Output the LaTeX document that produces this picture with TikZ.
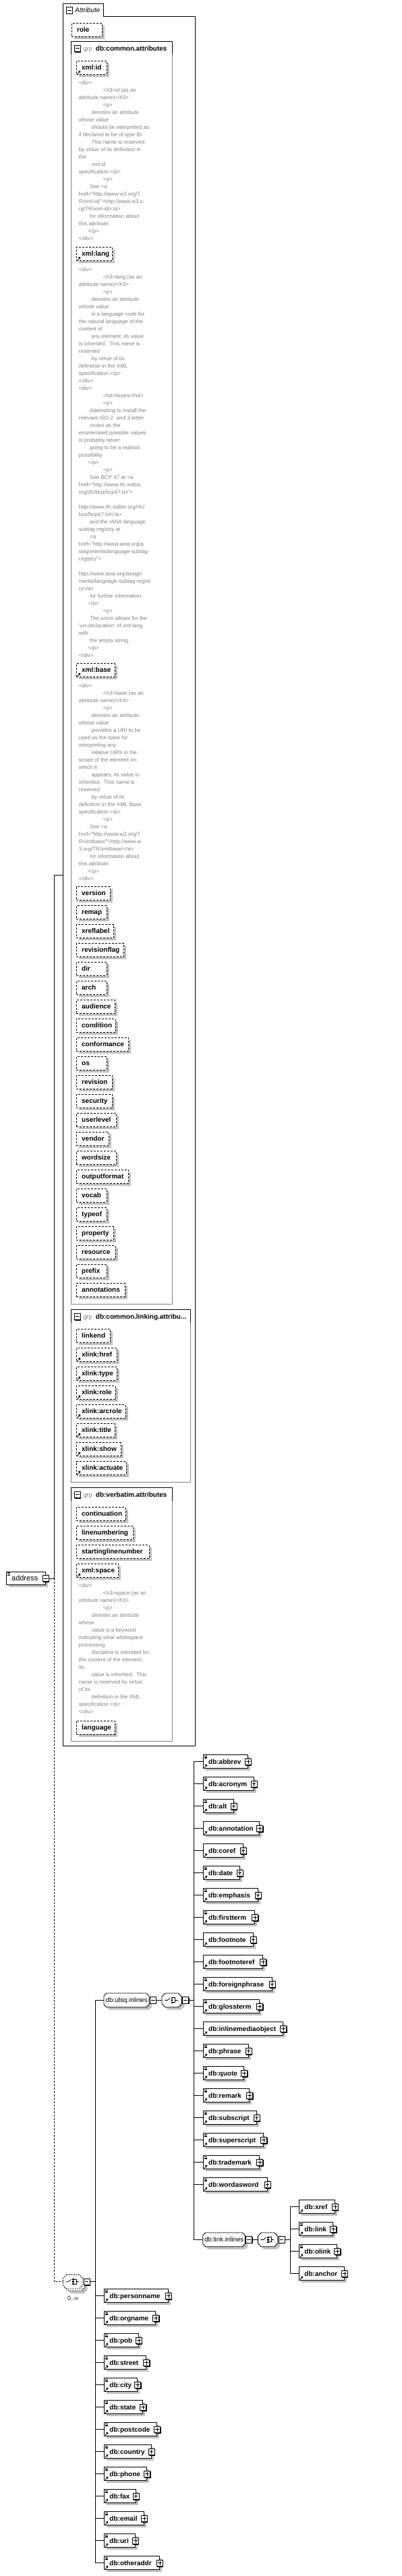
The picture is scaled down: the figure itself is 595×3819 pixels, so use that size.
\documentclass[tikz,border=0pt]{standalone}
\usepackage{fontspec}
\setmainfont{Liberation Sans}[Ligatures=TeXOff]
\definecolor{shg}{RGB}{192,192,192}
\definecolor{grpg}{RGB}{128,128,128}
\definecolor{annc}{RGB}{128,128,128}
\definecolor{occ}{RGB}{20,20,90}
\newcommand\abf{\fontsize{10}{12}\selectfont\bfseries}
\newcommand\annf{\fontsize{8}{11}\selectfont}
\newcommand\iA{\hspace*{36pt}}
\newcommand\iB{\hspace*{18.7pt}}
\newcommand\iC{\hspace*{16.3pt}}
\newcommand\iD{\hspace*{14pt}}
\tikzset{
 conn/.style={line width=0.9pt},
 attrbox/.style={draw, dash pattern=on 3pt off 2pt, line width=0.9pt, fill=white, anchor=north west, minimum height=20pt, inner xsep=7.7pt, inner ysep=0pt, align=left, text height=8pt, text depth=2pt, font=\abf},
 elembox/.style={draw, line width=0.9pt, fill=white, anchor=north west, minimum height=20pt, inner xsep=8pt, inner ysep=0pt, align=left, text height=8.4pt, text depth=1.6pt, font=\abf},
 pmboxs/.style={draw, line width=0.9pt, fill=white, minimum width=9pt, minimum height=9.5pt, inner sep=0pt},
 refnode/.style={anchor=north west, inner sep=0pt, minimum height=20.7pt, text height=8.4pt, text depth=1.6pt, font=\fontsize{9.7}{11}\selectfont},
 grpframe/.style={draw=grpg, line width=0.9pt},
 ann/.style={anchor=north west, inner sep=0pt, align=left, font=\annf, text=annc},
 grptag/.style={anchor=base west, inner sep=0pt, font=\fontsize{9.2}{11}\selectfont, text=grpg},
 grptitle/.style={anchor=base west, inner sep=0pt, font=\abf},
}
\newcommand\octpath[5]{(#1+#5,#2) -- (#3-#5,#2) -- (#3,#2+#5) -- (#3,#4-#5) -- (#3-#5,#4) -- (#1+#5,#4) -- (#1,#4-#5) -- (#1,#2+#5) -- cycle}
\newcommand\arricon[1]{%
  \draw[line width=0.9pt] ([shift={(2pt,1.8pt)}]#1.south west) -- ++(2.6pt,2.6pt);
  \fill ([shift={(6.2pt,6.4pt)}]#1.south west) -- ++(-3.4pt,0pt) -- ++(3.4pt,-3.4pt) -- cycle;}
\newcommand\linesicon[1]{%
  \foreach \d in {1.8,3.6,5.4} {\draw[line width=0.7pt] ([shift={(1.8pt,-\d pt)}]#1.north west) -- ++(4.6pt,0pt);}}
\newcommand\pmbx[3]{%
  \coordinate (#1-c) at #2;
  \fill ([shift={(-3.5pt,-5.75pt)}]#1-c) rectangle ([shift={(5.5pt,3.75pt)}]#1-c);
  \node[pmboxs] (#1) at (#1-c) {};
  \draw[line width=0.8pt] ([xshift=-2.8pt]#1.center) -- ([xshift=2.8pt]#1.center);
  \ifnum#3=1 \draw[line width=0.8pt] ([yshift=-2.8pt]#1.center) -- ([yshift=2.8pt]#1.center);\fi}
\newcommand\attrb[6]{%
  \pgfmathsetmacro\mytw{#4-#2-15.4}%
  \fill[shg] (#2+4,#3+4) rectangle (#4+4,#3+24);
  \node[attrbox, text width=\mytw pt] (#1) at (#2,#3) {#5};
  \ifnum#6=1 \arricon{#1}\fi}
\newcommand\elem[6]{%
  \pgfmathsetmacro\mytw{#4-#2-16}%
  \fill[shg] (#2+4,#3+4) rectangle (#4+4,#3+24);
  \node[elembox, text width=\mytw pt] (#1) at (#2,#3) {#5};
  \ifnum#6=1 \linesicon{#1}\fi
  \arricon{#1}
  \pmbx{#1p}{(#1.east)}{1}}
\newcommand\chicon[2]{%
  \draw[line width=0.8pt] (#1+4.3,#2) -- (#1+8.3,#2) -- (#1+12.3,#2-3.3);
  \fill (#1+14,#2-4.6) rectangle (#1+16.4,#2-2.4);
  \fill (#1+14,#2-1.2) rectangle (#1+16.4,#2+1.2);
  \fill (#1+14,#2+2.4) rectangle (#1+16.4,#2+4.6);
  \draw[line width=0.8pt] (#1+16.4,#2-3.5) -- (#1+19.6,#2-3.5) -- (#1+19.6,#2+3.5) -- (#1+16.4,#2+3.5);
  \draw[line width=0.8pt] (#1+19.6,#2) -- (#1+23.5,#2);}
\newcommand\grefn[6]{%
  \fill[shg] \octpath{#2+4}{#3+4}{#4+4}{#5+4}{4};
  \filldraw[fill=white, line width=0.9pt] \octpath{#2}{#3}{#4}{#5}{4};
  \node[refnode, minimum width={#4-#2}] (#1) at (#2,#3) {#6};
  \pmbx{#1m}{([xshift=5.5pt]#1.east)}{0}}
\newcommand\choicen[5]{%
  \pgfmathsetmacro\mycy{(#3+#5)/2}%
  \fill[shg] \octpath{#2+4}{#3+4}{#4+4}{#5+4}{5};
  \filldraw[fill=white, line width=0.9pt] \octpath{#2}{#3}{#4}{#5}{5};
  \node[inner sep=0pt, minimum width={#4-#2}, minimum height={#5-#3}, anchor=north west] (#1) at (#2,#3) {};
  \chicon{#2}{\mycy}
  \pmbx{#1m}{([xshift=5.5pt]#1.east)}{0}}
\begin{document}
\begin{tikzpicture}[x=1pt,y=-1pt]
\useasboundingbox (0,0) rectangle (595,3819);
\fill[white] (0,0) rectangle (595,3819);

% ---------- Attribute container ----------
\draw[line width=0.9pt] (93.3,24.3) -- (93.3,5.3) -- (153.3,5.3) -- (153.3,24.3) -- (289.3,24.3) -- (289.3,2588.3) -- (93.3,2588.3) -- cycle;
\pmbx{attm}{(102.7,15.7)}{0}
\node[anchor=base west, inner sep=0pt, font=\fontsize{10}{12}\selectfont\itshape] (atttitle) at (111,19) {Attribute};

\attrb{a-role}{106}{33.7}{150.7}{role}{0}

% ---------- group db:common.attributes ----------
\draw[line width=0.9pt] (105.7,80.7) -- (105.7,61.3) -- (255.3,61.3) -- (255.3,80.7);
\draw[grpframe] (255.3,80.7) -- (255.3,1933.3) -- (105.7,1933.3) -- (105.7,80.7);
\pmbx{g1m}{(114.8,71.8)}{0}
\node[grptag] (g1k) at (123.3,75.7) {grp};
\node[grptitle] (g1t) at (141.7,75.7) {db:common.attributes};

\attrb{a-xmlid}{113}{90.3}{157.7}{xml:id}{1}
\node[ann] (n-xmlid) at (116.7,118.2) {\rule{0pt}{7.5pt}<div>\\
\iA <h3>id (as an\\
attribute name)</h3>\\
\iA <p>\\
\iB denotes an attribute\\
whose value\\
\iB should be interpreted as\\
if declared to be of type ID.\\
\iB This name is reserved\\
by virtue of its definition in\\
the\\
\iB xml:id\\
specification.</p>\\
\iA <p>\\
\iC See <a\\
href="http://www.w3.org/T\\
R/xml-id/">http://www.w3.o\\
rg/TR/xml-id/</a>\\
\iC for information about\\
this attribute.\\
\iD </p>\\
</div>};

\attrb{a-xmllang}{113}{366.3}{166.3}{xml:lang}{1}
\node[ann] (n-xmllang) at (116.7,394.5) {\rule{0pt}{7.5pt}<div>\\
\iA <h3>lang (as an\\
attribute name)</h3>\\
\iA <p>\\
\iB denotes an attribute\\
whose value\\
\iB is a language code for\\
the natural language of the\\
content of\\
\iB any element; its value\\
is inherited.\ \ This name is\\
reserved\\
\iB by virtue of its\\
definition in the XML\\
specification.</p>\\
</div>\\
<div>\\
\iA <h4>Notes</h4>\\
\iA <p>\\
\iC Attempting to install the\\
relevant ISO 2- and 3-letter\\
\iC codes as the\\
enumerated possible values\\
is probably never\\
\iC going to be a realistic\\
possibility.\\
\iD </p>\\
\iA <p>\\
\iC See BCP 47 at <a\\
href="http://www.rfc-editor.\\
org/rfc/bcp/bcp47.txt">\\
\mbox{}\\
http://www.rfc-editor.org/rfc/\\
bcp/bcp47.txt</a>\\
\iC and the IANA language\\
subtag registry at\\
\iC <a\\
href="http://www.iana.org/a\\
ssignments/language-subtag-\\
registry">\\
\mbox{}\\
http://www.iana.org/assign\\
ments/language-subtag-regist\\
ry</a>\\
\iC for further information.\\
\iD </p>\\
\iA <p>\\
\iC The union allows for the\\
'un-declaration' of xml:lang\\
with\\
\iC the empty string.\\
\iD </p>\\
</div>};

\attrb{a-xmlbase}{113}{983.3}{170}{xml:base}{1}
\node[ann] (n-xmlbase) at (116.7,1011.5) {\rule{0pt}{7.5pt}<div>\\
\iA <h3>base (as an\\
attribute name)</h3>\\
\iA <p>\\
\iB denotes an attribute\\
whose value\\
\iB provides a URI to be\\
used as the base for\\
interpreting any\\
\iB relative URIs in the\\
scope of the element on\\
which it\\
\iB appears; its value is\\
inherited.\ \ This name is\\
reserved\\
\iB by virtue of its\\
definition in the XML Base\\
specification.</p>\\
\iA <p>\\
\iC See <a\\
href="http://www.w3.org/T\\
R/xmlbase/">http://www.w\\
3.org/TR/xmlbase/</a>\\
\iC for information about\\
this attribute.\\
\iD </p>\\
</div>};

\attrb{a-version}{113}{1314.3}{163}{version}{0}
\attrb{a-remap}{113}{1342.3}{157.7}{remap}{0}
\attrb{a-xreflabel}{113}{1370.3}{168.3}{xreflabel}{0}
\attrb{a-revisionflag}{113}{1398.3}{183.3}{revisionflag}{0}
\attrb{a-dir}{113}{1426.3}{157.7}{dir}{0}
\attrb{a-arch}{113}{1454.3}{157.7}{arch}{0}
\attrb{a-audience}{113}{1482.3}{170}{audience}{0}
\attrb{a-condition}{113}{1510.3}{171}{condition}{0}
\attrb{a-conformance}{113}{1538.3}{190.3}{conformance}{0}
\attrb{a-os}{113}{1566.3}{157.7}{os}{0}
\attrb{a-revision}{113}{1594.3}{165.7}{revision}{0}
\attrb{a-security}{113}{1622.3}{165.7}{security}{0}
\attrb{a-userlevel}{113}{1650.3}{172.3}{userlevel}{0}
\attrb{a-vendor}{113}{1678.3}{161.3}{vendor}{0}
\attrb{a-wordsize}{113}{1706.3}{172.3}{wordsize}{0}
\attrb{a-outputformat}{113}{1734.3}{190.3}{outputformat}{0}
\attrb{a-vocab}{113}{1762.3}{157.7}{vocab}{0}
\attrb{a-typeof}{113}{1790.3}{157.7}{typeof}{0}
\attrb{a-property}{113}{1818.3}{168.3}{property}{0}
\attrb{a-resource}{113}{1846.3}{171}{resource}{0}
\attrb{a-prefix}{113}{1874.3}{157.7}{prefix}{0}
\attrb{a-annotations}{113}{1902.3}{184.5}{annotations}{0}

% ---------- group db:common.linking.attributes ----------
\draw[line width=0.9pt] (105.7,1960.7) -- (105.7,1941.3) -- (282.7,1941.3) -- (282.7,1960.7);
\draw[grpframe] (282.7,1960.7) -- (282.7,2197.3) -- (105.7,2197.3) -- (105.7,1960.7);
\pmbx{g2m}{(114.8,1951.8)}{0}
\node[grptag] (g2k) at (123.3,1955.7) {grp};
\node[grptitle] (g2t) at (141.7,1955.7) {db:common.linking.attribu...};

\attrb{a-linkend}{113}{1970.3}{162.7}{linkend}{0}
\attrb{a-xhref}{113}{1998.3}{172.7}{xlink:href}{1}
\attrb{a-xtype}{113}{2026.3}{172.7}{xlink:type}{1}
\attrb{a-xrole}{113}{2054.3}{171}{xlink:role}{1}
\attrb{a-xarcrole}{113}{2082.3}{186}{xlink:arcrole}{1}
\attrb{a-xtitle}{113}{2110.3}{170}{xlink:title}{1}
\attrb{a-xshow}{113}{2138.3}{179}{xlink:show}{1}
\attrb{a-xactuate}{113}{2166.3}{186.7}{xlink:actuate}{1}

% ---------- group db:verbatim.attributes ----------
\draw[line width=0.9pt] (105.7,2225) -- (105.7,2205.7) -- (255.3,2205.7) -- (255.3,2225);
\draw[grpframe] (255.3,2225) -- (255.3,2581.3) -- (105.7,2581.3) -- (105.7,2225);
\pmbx{g3m}{(114.8,2215.8)}{0}
\node[grptag] (g3k) at (123.3,2219.6) {grp};
\node[grptitle] (g3t) at (141.7,2219.6) {db:verbatim.attributes};

\attrb{a-continuation}{113}{2234.3}{186}{continuation}{0}
\attrb{a-linenumbering}{113}{2262.3}{197.3}{linenumbering}{0}
\attrb{a-startinglinenumber}{113}{2290.3}{221}{startinglinenumber}{0}
\attrb{a-xmlspace}{113}{2318.3}{175.3}{xml:space}{1}
\node[ann] (n-xmlspace) at (116.7,2346.2) {\rule{0pt}{7.5pt}<div>\\
\iA <h3>space (as an\\
attribute name)</h3>\\
\iA <p>\\
\iB denotes an attribute\\
whose\\
\iB value is a keyword\\
indicating what whitespace\\
processing\\
\iB discipline is intended for\\
the content of the element;\\
its\\
\iB value is inherited.\ \ This\\
name is reserved by virtue\\
of its\\
\iB definition in the XML\\
specification.</p>\\
</div>};
\attrb{a-language}{113}{2550.7}{170}{language}{0}

% ---------- root element ----------
\fill[shg] (13,2333.7) rectangle (71,2353.3);
\node[draw, fill=white, line width=0.9pt, anchor=north west, minimum height=19.6pt, text width=42.6pt, inner xsep=7.7pt, inner ysep=0pt, align=left, text height=8.4pt, text depth=1.6pt, font=\fontsize{11}{13}\selectfont] (address) at (9,2329.7) {address};
\linesicon{address}
\pmbx{addrm}{(address.east)}{0}

% ---------- sequence / choice structure ----------
\fill[shg] \octpath{100.3}{3379.3}{129.7}{3400}{5};
\filldraw[fill=white, line width=0.9pt, dash pattern=on 2pt off 1.5pt] \octpath{96.3}{3375.3}{125.7}{3396}{5};
\filldraw[fill=white, line width=0.9pt, dash pattern=on 2pt off 1.5pt] \octpath{93.3}{3372.3}{122.7}{3393}{5};
\node[inner sep=0pt, minimum width=29.4pt, minimum height=20.7pt, anchor=north west] (ch0) at (93.3,3372.3) {};
\chicon{93.3}{3382.65}
\pmbx{ch0m}{([xshift=5.5pt]ch0.east)}{0}
\node[anchor=base west, inner sep=0pt, font=\fontsize{9}{11}\selectfont, text=occ] (ch0occ) at (100,3410.5) {0..∞};

\grefn{ubiq}{154}{2955}{221}{2975.7}{db:ubiq.inlines}
\choicen{ch1}{240}{2955}{269.3}{2975.7}
\grefn{linkinl}{300.7}{3310}{363.3}{3330.7}{db:link.inlines}
\choicen{ch2}{382.3}{3310}{411.7}{3330.7}

\elem{abbrev}{300.7}{2601.3}{367}{db:abbrev}{1}
\elem{acronym}{300.7}{2634.3}{375.7}{db:acronym}{1}
\elem{alt}{300.7}{2667.3}{345.7}{db:alt}{1}
\elem{annotation}{300.7}{2700.3}{384.3}{db:annotation}{0}
\elem{coref}{300.7}{2733.3}{359.7}{db:coref}{0}
\elem{date}{300.7}{2766.3}{354.7}{db:date}{1}
\elem{emphasis}{300.7}{2799.3}{381.7}{db:emphasis}{1}
\elem{firstterm}{300.7}{2832.3}{377.3}{db:firstterm}{1}
\elem{footnote}{300.7}{2865.3}{374.7}{db:footnote}{0}
\elem{footnoteref}{300.7}{2898.3}{389.3}{db:footnoteref}{0}
\elem{foreignphrase}{300.7}{2931.3}{402.7}{db:foreignphrase}{1}
\elem{glossterm}{300.7}{2964.3}{384.3}{db:glossterm}{1}
\elem{inlinemediaobject}{300.7}{2997.3}{419.3}{db:inlinemediaobject}{0}
\elem{phrase}{300.7}{3030.3}{367.7}{db:phrase}{1}
\elem{quote}{300.7}{3063.3}{361.3}{db:quote}{1}
\elem{remark}{300.7}{3096.3}{369.3}{db:remark}{1}
\elem{subscript}{300.7}{3129.3}{379.7}{db:subscript}{1}
\elem{superscript}{300.7}{3162.3}{390.3}{db:superscript}{1}
\elem{trademark}{300.7}{3195.3}{384.3}{db:trademark}{1}
\elem{wordasword}{300.7}{3228.3}{395.7}{db:wordasword}{1}

\elem{xref}{443}{3261.3}{496}{db:xref}{0}
\elem{link}{443}{3294.3}{493.3}{db:link}{1}
\elem{olink}{443}{3327.3}{499.3}{db:olink}{1}
\elem{anchor}{443}{3360.3}{510}{db:anchor}{0}

\elem{personname}{154}{3393.3}{249}{db:personname}{1}
\elem{orgname}{154}{3426.3}{230.3}{db:orgname}{1}
\elem{pob}{154}{3459.3}{205}{db:pob}{1}
\elem{street}{154}{3492.3}{216.3}{db:street}{1}
\elem{city}{154}{3525.3}{203.3}{db:city}{1}
\elem{state}{154}{3558.3}{211.3}{db:state}{1}
\elem{postcode}{154}{3591.3}{232.3}{db:postcode}{1}
\elem{country}{154}{3624.3}{223.7}{db:country}{1}
\elem{phone}{154}{3657.3}{217.3}{db:phone}{1}
\elem{fax}{154}{3690.3}{200.7}{db:fax}{1}
\elem{email}{154}{3723.3}{213}{db:email}{1}
\elem{uri}{154}{3756.3}{200}{db:uri}{1}
\elem{otheraddr}{154}{3789.3}{236}{db:otheraddr}{1}

% ---------- connectors ----------
\coordinate (attL) at (93.3,1297.3);
\coordinate (busA1) at (80.3,1297.3);
\coordinate (busA2) at (addrm.east -| busA1);
\coordinate (busA3) at (ch0.west -| busA1);
\draw[conn] (attL) -- (busA1) -- (busA2) -- (addrm.east);
\draw[conn, dash pattern=on 3pt off 2pt] (busA2) -- (busA3) -- (ch0.west);

\coordinate (busB1) at ([xshift=-13pt]ubiq.west);
\coordinate (busB2) at ([xshift=-13pt]otheraddr.west);
\draw[conn] (busB1) -- (busB2);
\draw[conn] (ch0m.east) -- (ch0m.east -| busB1);
\foreach \n in {ubiq,personname,orgname,pob,street,city,state,postcode,country,phone,fax,email,uri,otheraddr}
  {\draw[conn] (\n.west) -- ++(-13pt,0pt);}

\draw[conn] (ubiqm.east) -- (ch1.west);
\coordinate (busC1) at ([xshift=-13.4pt]abbrev.west);
\coordinate (busC2) at ([xshift=-13.4pt]linkinl.west);
\draw[conn] (busC1) -- (busC2);
\draw[conn] (ch1m.east) -- (ch1m.east -| busC1);
\foreach \n in {abbrev,acronym,alt,annotation,coref,date,emphasis,firstterm,footnote,footnoteref,foreignphrase,glossterm,inlinemediaobject,phrase,quote,remark,subscript,superscript,trademark,wordasword,linkinl}
  {\draw[conn] (\n.west) -- ++(-13.4pt,0pt);}

\draw[conn] (linkinlm.east) -- (ch2.west);
\coordinate (busD1) at ([xshift=-13pt]xref.west);
\coordinate (busD2) at ([xshift=-13pt]anchor.west);
\draw[conn] (busD1) -- (busD2);
\draw[conn] (ch2m.east) -- (ch2m.east -| busD1);
\foreach \n in {xref,link,olink,anchor}
  {\draw[conn] (\n.west) -- ++(-13pt,0pt);}
\end{tikzpicture}
\end{document}
